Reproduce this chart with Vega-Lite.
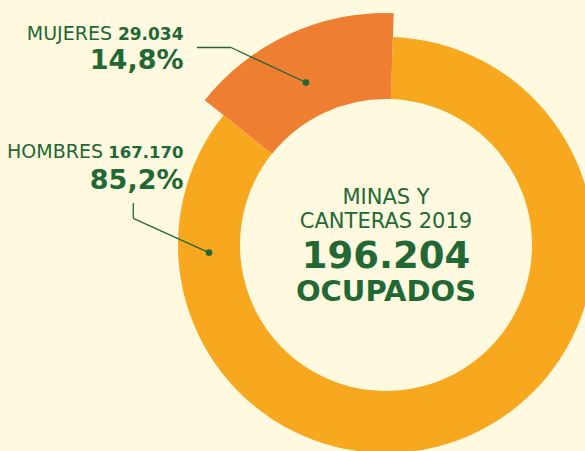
{
  "$schema": "https://vega.github.io/schema/vega-lite/v6.json",
  "width": 398,
  "height": 412,
  "autosize": {"type": "none"},
  "padding": {"left": 187, "top": 39, "right": 0, "bottom": 0},
  "background": "#FEF9DF",
  "config": {
    "view": {"stroke": null},
    "locale": {"number": {"decimal": ",", "thousands": ".", "grouping": [3], "currency": ["", " €"]}},
    "text": {"font": "DejaVu Sans", "color": "#216834", "baseline": "alphabetic"}
  },
  "data": {"values": [
    {"genero": "HOMBRES", "ocupados": 167170, "porcentaje": 0.852},
    {"genero": "MUJERES", "ocupados": 29034, "porcentaje": 0.148}
  ]},
  "transform": [
    {"stack": "ocupados", "groupby": [], "as": ["v0", "v1"], "sort": [{"field": "genero", "order": "ascending"}]}
  ],
  "layer": [
    {
      "transform": [{"filter": "datum.genero === 'HOMBRES'"}],
      "mark": {"type": "arc", "innerRadius": 146, "outerRadius": 208, "color": "#F8A81F"},
      "encoding": {
        "theta": {"field": "v0", "type": "quantitative", "scale": {"domain": [0, 196204], "range": [0.0332, 6.3164]}},
        "theta2": {"field": "v1"}
      }
    },
    {
      "transform": [{"filter": "datum.genero === 'MUJERES'"}],
      "mark": {"type": "arc", "innerRadius": 146, "outerRadius": 232, "color": "#EE7E31"},
      "encoding": {
        "theta": {"field": "v0", "type": "quantitative", "scale": {"domain": [0, 196204], "range": [0.0332, 6.3164]}},
        "theta2": {"field": "v1"}
      }
    },
    {
      "transform": [{"filter": "datum.genero === 'MUJERES'"}],
      "mark": {"type": "rule", "color": "#216834", "strokeWidth": 1.3},
      "encoding": {
        "x": {"datum": -189, "type": "quantitative", "scale": {"domain": [-199, 199], "nice": false, "zero": false}, "axis": null},
        "y": {"datum": -197.5, "type": "quantitative", "scale": {"domain": [-206, 206], "nice": false, "zero": false, "reverse": true}, "axis": null},
        "x2": {"datum": -155},
        "y2": {"datum": -197.5}
      }
    },
    {
      "transform": [{"filter": "datum.genero === 'MUJERES'"}],
      "mark": {"type": "rule", "color": "#216834", "strokeWidth": 1.3},
      "encoding": {
        "x": {"datum": -155, "type": "quantitative"},
        "y": {"datum": -197.5, "type": "quantitative"},
        "x2": {"datum": -80},
        "y2": {"datum": -162.5}
      }
    },
    {
      "transform": [{"filter": "datum.genero === 'HOMBRES'"}],
      "mark": {"type": "rule", "color": "#216834", "strokeWidth": 1.3},
      "encoding": {
        "x": {"datum": -252.7, "type": "quantitative"},
        "y": {"datum": -42, "type": "quantitative"},
        "x2": {"datum": -252.7},
        "y2": {"datum": -26.7}
      }
    },
    {
      "transform": [{"filter": "datum.genero === 'HOMBRES'"}],
      "mark": {"type": "rule", "color": "#216834", "strokeWidth": 1.3},
      "encoding": {
        "x": {"datum": -252.7, "type": "quantitative"},
        "y": {"datum": -26.7, "type": "quantitative"},
        "x2": {"datum": -177},
        "y2": {"datum": 7.7}
      }
    },
    {
      "transform": [{"filter": "datum.genero === 'MUJERES'"}],
      "mark": {"type": "point", "filled": true, "opacity": 1, "color": "#216834", "size": 45},
      "encoding": {
        "x": {"datum": -80, "type": "quantitative"},
        "y": {"datum": -162.5, "type": "quantitative"}
      }
    },
    {
      "transform": [{"filter": "datum.genero === 'HOMBRES'"}],
      "mark": {"type": "point", "filled": true, "opacity": 1, "color": "#216834", "size": 45},
      "encoding": {
        "x": {"datum": -177, "type": "quantitative"},
        "y": {"datum": 7.7, "type": "quantitative"}
      }
    },
    {
      "transform": [{"filter": "datum.genero === 'MUJERES'"}],
      "mark": {"type": "text", "align": "right", "fontSize": 19},
      "encoding": {
        "x": {"datum": -274, "type": "quantitative"},
        "y": {"datum": -205, "type": "quantitative"},
        "text": {"field": "genero"}
      }
    },
    {
      "transform": [{"filter": "datum.genero === 'MUJERES'"}],
      "mark": {"type": "text", "align": "right", "fontSize": 17, "fontWeight": "bold"},
      "encoding": {
        "x": {"datum": -202.5, "type": "quantitative"},
        "y": {"datum": -205, "type": "quantitative"},
        "text": {"field": "ocupados", "type": "quantitative", "format": ",d"}
      }
    },
    {
      "transform": [{"filter": "datum.genero === 'MUJERES'"}],
      "mark": {"type": "text", "align": "right", "fontSize": 27, "fontWeight": "bold"},
      "encoding": {
        "x": {"datum": -202.5, "type": "quantitative"},
        "y": {"datum": -176, "type": "quantitative"},
        "text": {"field": "porcentaje", "type": "quantitative", "format": ".1%"}
      }
    },
    {
      "transform": [{"filter": "datum.genero === 'HOMBRES'"}],
      "mark": {"type": "text", "align": "right", "fontSize": 19},
      "encoding": {
        "x": {"datum": -283, "type": "quantitative"},
        "y": {"datum": -86.7, "type": "quantitative"},
        "text": {"field": "genero"}
      }
    },
    {
      "transform": [{"filter": "datum.genero === 'HOMBRES'"}],
      "mark": {"type": "text", "align": "right", "fontSize": 16.5, "fontWeight": "bold"},
      "encoding": {
        "x": {"datum": -202.5, "type": "quantitative"},
        "y": {"datum": -86.7, "type": "quantitative"},
        "text": {"field": "ocupados", "type": "quantitative", "format": ",d"}
      }
    },
    {
      "transform": [{"filter": "datum.genero === 'HOMBRES'"}],
      "mark": {"type": "text", "align": "right", "fontSize": 27, "fontWeight": "bold"},
      "encoding": {
        "x": {"datum": -202.5, "type": "quantitative"},
        "y": {"datum": -56, "type": "quantitative"},
        "text": {"field": "porcentaje", "type": "quantitative", "format": ".1%"}
      }
    },
    {
      "transform": [{"filter": "datum.genero === 'HOMBRES'"}],
      "mark": {"type": "text", "align": "center", "fontSize": 21},
      "encoding": {
        "x": {"datum": 0, "type": "quantitative"},
        "y": {"datum": -41, "type": "quantitative"},
        "text": {"value": "MINAS Y"}
      }
    },
    {
      "transform": [{"filter": "datum.genero === 'HOMBRES'"}],
      "mark": {"type": "text", "align": "center", "fontSize": 21},
      "encoding": {
        "x": {"datum": 0, "type": "quantitative"},
        "y": {"datum": -17.5, "type": "quantitative"},
        "text": {"value": "CANTERAS 2019"}
      }
    },
    {
      "transform": [{"filter": "datum.genero === 'HOMBRES'"}],
      "mark": {"type": "text", "align": "center", "fontSize": 37, "fontWeight": "bold"},
      "encoding": {
        "x": {"datum": 0, "type": "quantitative"},
        "y": {"datum": 22.5, "type": "quantitative"},
        "text": {"value": "196.204"}
      }
    },
    {
      "transform": [{"filter": "datum.genero === 'HOMBRES'"}],
      "mark": {"type": "text", "align": "center", "fontSize": 29, "fontWeight": "bold"},
      "encoding": {
        "x": {"datum": 0, "type": "quantitative"},
        "y": {"datum": 56, "type": "quantitative"},
        "text": {"value": "OCUPADOS"}
      }
    }
  ]
}
